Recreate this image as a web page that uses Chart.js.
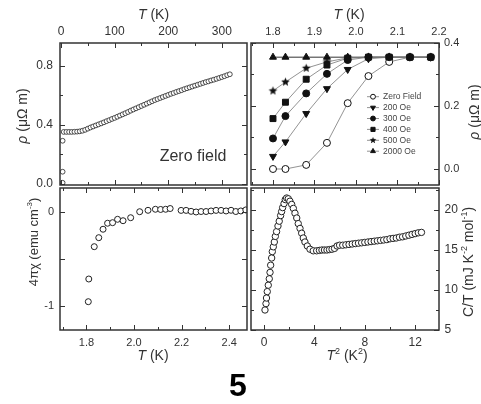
<!DOCTYPE html>
<html>
<head>
<meta charset="utf-8">
<title>Figure 5</title>
<script src="https://cdn.jsdelivr.net/npm/chart.js@4.4.1/dist/chart.umd.min.js"></script>
<style>
  html, body { margin: 0; padding: 0; background: #fff; }
  #fig { position: relative; width: 481px; height: 404px; overflow: hidden; }
  #fig canvas { position: absolute; left: 0; top: 0; }
  #num { position: absolute; left: 218px; top: 369px; width: 40px; text-align: center;
         font: bold 32px/32px "Liberation Sans", Arial, sans-serif; color: #000; }
</style>
</head>
<body>
<div id="fig">
  <canvas id="rho" width="481" height="404"></canvas>
  <canvas id="field" width="481" height="404"></canvas>
  <canvas id="chi" width="481" height="404"></canvas>
  <canvas id="heat" width="481" height="404"></canvas>
  <div id="num">5</div>
</div>
<script>
const FONT = "'Liberation Sans', Arial, sans-serif";
Chart.defaults.font.family = FONT;

// top left: resistivity, zero field, up to room temperature
const rhoTemps = [3, 3, 3, 5, 10, 15, 20, 25, 30, 35, 40, 45, 50, 55, 60, 65, 70, 75, 80, 85, 90, 95,
  100, 105, 110, 115, 120, 125, 130, 135, 140, 145, 150, 155, 160, 165, 170, 175, 180, 185, 190, 195,
  200, 205, 210, 215, 220, 225, 230, 235, 240, 245, 250, 255, 260, 265, 270, 275, 280, 285, 290, 295,
  300, 305, 310, 315];
const rhoZero = [0.005, 0.08, 0.29, 0.350, 0.350, 0.350, 0.350, 0.351, 0.352, 0.354, 0.358, 0.364,
  0.372, 0.380, 0.387, 0.394, 0.401, 0.408, 0.415, 0.423, 0.430, 0.438, 0.445, 0.453, 0.461, 0.469,
  0.477, 0.485, 0.494, 0.502, 0.510, 0.518, 0.526, 0.534, 0.542, 0.550, 0.558, 0.566, 0.573, 0.580,
  0.587, 0.594, 0.601, 0.608, 0.614, 0.621, 0.627, 0.633, 0.640, 0.646, 0.652, 0.658, 0.664, 0.670,
  0.676, 0.682, 0.688, 0.693, 0.699, 0.704, 0.710, 0.716, 0.722, 0.728, 0.735, 0.741];

// top right: transition under field
const fieldTemps = [1.80, 1.83, 1.88, 1.93, 1.98, 2.03, 2.08, 2.13, 2.18];
const rhoZeroField = [0.000, 0.000, 0.013, 0.083, 0.209, 0.295, 0.340, 0.355, 0.355];
const rho200Oe = [0.040, 0.086, 0.176, 0.255, 0.316, 0.350, 0.355, 0.355, 0.355];
const rho300Oe = [0.097, 0.168, 0.240, 0.302, 0.346, 0.355, 0.355, 0.355, 0.355];
const rho400Oe = [0.160, 0.212, 0.285, 0.330, 0.352, 0.355, 0.355, 0.355, 0.355];
const rho500Oe = [0.248, 0.276, 0.320, 0.340, 0.353, 0.355, 0.355, 0.355, 0.355];
const rho2000Oe = [0.355, 0.355, 0.355, 0.355, 0.355, 0.355, 0.355, 0.355, 0.355];
const fieldLabels = ['Zero Field', '200 Oe', '300 Oe', '400 Oe', '500 Oe', '2000 Oe'];

// bottom left: susceptibility
const chiTemps = [1.808, 1.810, 1.833, 1.852, 1.870, 1.889, 1.910, 1.931, 1.954, 1.986, 2.024, 2.059,
  2.090, 2.112, 2.133, 2.152, 2.198, 2.219, 2.240, 2.261, 2.282, 2.303, 2.324, 2.345, 2.366, 2.387,
  2.408, 2.428, 2.449, 2.470];
const chi = [-0.954, -0.712, -0.367, -0.271, -0.181, -0.117, -0.111, -0.075, -0.090, -0.058, 0.006,
  0.021, 0.032, 0.030, 0.032, 0.040, 0.020, 0.020, 0.010, 0.003, 0.008, 0.008, 0.014, 0.020, 0.020,
  0.014, 0.021, 0.008, 0.014, 0.025];

// bottom right: specific heat
const tSquared = [0.08, 0.16, 0.20, 0.26, 0.34, 0.42, 0.48, 0.53, 0.61, 0.66, 0.74, 0.82, 0.90, 1.00,
  1.11, 1.21, 1.32, 1.40, 1.48, 1.59, 1.69, 1.80, 1.93, 2.06, 2.20, 2.33, 2.46, 2.60, 2.72, 2.86,
  2.99, 3.12, 3.25, 3.44, 3.65, 3.91, 4.18, 4.40, 4.60, 4.80, 5.00, 5.20, 5.40, 5.60, 5.80, 6.00,
  6.25, 6.50, 6.75, 7.00, 7.25, 7.50, 7.75, 8.00, 8.25, 8.50, 8.75, 9.00, 9.25, 9.50, 9.75, 10.00,
  10.25, 10.50, 10.75, 11.00, 11.25, 11.50, 11.75, 12.00, 12.25, 12.50];
const cOverT = [7.5, 8.3, 9.0, 9.8, 10.6, 11.4, 12.2, 13.1, 14.0, 14.8, 15.4, 16.0, 16.7, 17.3, 18.0,
  18.6, 19.3, 19.8, 20.3, 20.8, 21.3, 21.5, 21.4, 21.1, 20.7, 20.2, 19.6, 19.0, 18.3, 17.7, 17.1,
  16.5, 16.0, 15.5, 15.1, 14.9, 14.9, 14.95, 15.0, 15.0, 15.0, 15.05, 15.1, 15.2, 15.5, 15.6, 15.6,
  15.65, 15.7, 15.75, 15.8, 15.85, 15.9, 15.95, 16.0, 16.05, 16.1, 16.15, 16.2, 16.25, 16.3, 16.4,
  16.45, 16.5, 16.6, 16.65, 16.75, 16.85, 16.95, 17.05, 17.15, 17.2];

const zip = (xs, ys) => xs.map((x, i) => ({ x, y: ys[i] }));
const fmt1 = (v) => v.toFixed(1);
const fmt0 = (v) => String(Math.round(v));

function starImage(r) {
  const c = document.createElement('canvas');
  const s = Math.ceil(r * 2 + 2);
  c.width = c.height = s;
  const g = c.getContext('2d');
  g.fillStyle = '#111';
  g.beginPath();
  for (let k = 0; k < 10; k++) {
    const rr = k % 2 ? r * 0.45 : r;
    const a = -Math.PI / 2 + (k * Math.PI) / 5;
    g.lineTo(s / 2 + rr * Math.cos(a), s / 2 + rr * Math.sin(a));
  }
  g.closePath();
  g.fill();
  return c;
}

// each axis gets a fixed band (room) so the plot box lands where the panel is
function axis(position, room, min, max, step, pad, size, fmt) {
  return {
    type: 'linear', position, min, max,
    afterFit: (s) => { if (s.isHorizontal()) s.height = room; else s.width = room; },
    grid: { display: false, drawTicks: false },
    border: { display: false },
    ticks: {
      stepSize: step, includeBounds: false, autoSkip: false, maxRotation: 0,
      padding: pad, color: '#333', font: { family: FONT, size }, callback: fmt,
    },
  };
}

function marks(scale, step) {
  const out = [];
  for (let k = Math.ceil(scale.min / step - 1e-9); k * step <= scale.max + 1e-9; k++) out.push(k * step);
  return out;
}

function richText(ctx, t) {
  ctx.save();
  ctx.translate(t.x, t.y);
  if (t.rot) ctx.rotate((t.rot * Math.PI) / 180);
  ctx.textBaseline = 'middle';
  ctx.textAlign = 'left';
  const font = (st) => `${st === 'i' ? 'italic ' : ''}${st === 's' ? Math.round(t.size * 0.65) : t.size}px ${FONT}`;
  let w = 0;
  t.segs.forEach(([s, st]) => { ctx.font = font(st); w += ctx.measureText(s).width; });
  let x = -w / 2;
  t.segs.forEach(([s, st]) => {
    ctx.font = font(st);
    ctx.fillText(s, x, st === 's' ? -t.size * 0.35 : 0);
    x += ctx.measureText(s).width;
  });
  ctx.restore();
}

// box, inward ticks on all four sides, axis titles
const frame = {
  id: 'frame',
  afterDraw(chart, args, o) {
    const { ctx, chartArea: a } = chart;
    ctx.save();
    ctx.strokeStyle = '#333';
    ctx.lineWidth = 1;
    ctx.beginPath();
    for (const s of Object.values(chart.scales)) {
      const horiz = s.isHorizontal();
      const major = s.ticks.map((t) => t.value);
      const minor = marks(s, horiz ? o.minorX : o.minorY)
        .filter((v) => !major.some((m) => Math.abs(m - v) < 1e-6));
      const put = (v, len) => {
        const p = Math.round(s.getPixelForValue(v)) + 0.5;
        if (horiz) {
          ctx.moveTo(p, a.top); ctx.lineTo(p, a.top + len);
          ctx.moveTo(p, a.bottom); ctx.lineTo(p, a.bottom - len);
        } else {
          ctx.moveTo(a.left, p); ctx.lineTo(a.left + len, p);
          ctx.moveTo(a.right, p); ctx.lineTo(a.right - len, p);
        }
      };
      major.forEach((v) => put(v, 5));
      minor.forEach((v) => put(v, 3));
    }
    ctx.stroke();
    ctx.lineWidth = 1.5;
    ctx.strokeRect(a.left, a.top, a.right - a.left, a.bottom - a.top);
    ctx.fillStyle = '#333';
    (o.titles || []).forEach((t) => richText(ctx, t));
    ctx.restore();
  },
};

const fieldLegend = {
  id: 'fieldLegend',
  afterDatasetsDraw(chart, args, o) {
    const ctx = chart.ctx;
    ctx.save();
    chart.data.datasets.forEach((ds, i) => {
      const y = o.y + i * o.dy;
      ctx.strokeStyle = '#777';
      ctx.lineWidth = 0.8;
      ctx.beginPath(); ctx.moveTo(o.x - 6, y); ctx.lineTo(o.x + 6, y); ctx.stroke();
      if (ds.pointStyle instanceof HTMLCanvasElement) {
        const w = ds.pointStyle.width * 0.75;
        ctx.drawImage(ds.pointStyle, o.x - w / 2, y - w / 2, w, w);
      } else {
        ctx.fillStyle = ds.pointBackgroundColor;
        ctx.strokeStyle = ds.pointBorderColor;
        ctx.lineWidth = 1;
        Chart.helpers.drawPoint(ctx, {
          pointStyle: ds.pointStyle, radius: ds.pointRadius * 0.7,
          rotation: ds.pointRotation || 0, borderWidth: 1,
        }, o.x, y);
      }
      ctx.fillStyle = '#444';
      ctx.font = `8.5px ${FONT}`;
      ctx.textBaseline = 'middle';
      ctx.textAlign = 'left';
      ctx.fillText(ds.label, o.x + 10, y);
    });
    ctx.restore();
  },
};

function makePanel(id, padding, x, y, datasets, frameOpts, extra) {
  return new Chart(document.getElementById(id), {
    type: 'scatter',
    data: { datasets },
    options: {
      responsive: false, animation: false, devicePixelRatio: 1, events: [],
      layout: { padding },
      scales: { x, y },
      plugins: {
        legend: { display: false }, tooltip: { enabled: false },
        frame: frameOpts, fieldLegend: extra || {},
      },
    },
    plugins: extra ? [frame, fieldLegend] : [frame],
  });
}

const openCircle = (r) => ({
  pointStyle: 'circle', pointRadius: r, pointBackgroundColor: '#fff',
  pointBorderColor: '#222', pointBorderWidth: 1, showLine: false,
});

const tK = [['T', 'i'], [' (K)']];
const rhoUnit = [['ρ', 'i'], [' (μΩ m)']];

// plot boxes: left 60-247 / right 251-439, top 43-185 / bottom 188-330
makePanel('rho', { left: 0, top: 0, right: 234, bottom: 219 },
  axis('top', 43, -1.9, 347, 100, 4, 12, fmt0),
  axis('left', 60, -0.01, 0.953, 0.4, 7, 12, fmt1),
  [{ label: 'Zero field', data: zip(rhoTemps, rhoZero), ...openCircle(2.4), pointBorderWidth: 0.8 }],
  {
    minorX: 50, minorY: 0.2,
    titles: [
      { segs: tK, x: 153.5, y: 15, size: 14 },
      { segs: rhoUnit, x: 23, y: 116, size: 14, rot: -90 },
      { segs: [['Zero field']], x: 193, y: 157, size: 16 },
    ],
  });

const star = starImage(4.5);
const fieldLine = { showLine: true, borderColor: '#777', borderWidth: 0.8, pointBorderColor: '#111', pointBorderWidth: 1 };
makePanel('field', { left: 251, top: 0, right: 0, bottom: 219 },
  axis('top', 43, 1.747, 2.2, 0.1, 4, 11, fmt1),
  axis('right', 42, -0.0508, 0.4, 0.2, 5, 11, fmt1),
  [
    { label: fieldLabels[0], data: zip(fieldTemps, rhoZeroField), ...fieldLine, pointStyle: 'circle', pointRadius: 3.5, pointBackgroundColor: '#fff', order: 1 },
    { label: fieldLabels[1], data: zip(fieldTemps, rho200Oe), ...fieldLine, pointStyle: 'triangle', pointRotation: 180, pointRadius: 4, pointBackgroundColor: '#111', order: 2 },
    { label: fieldLabels[2], data: zip(fieldTemps, rho300Oe), ...fieldLine, pointStyle: 'circle', pointRadius: 3.5, pointBackgroundColor: '#111', order: 0 },
    { label: fieldLabels[3], data: zip(fieldTemps, rho400Oe), ...fieldLine, pointStyle: 'rect', pointRadius: 4.2, pointBackgroundColor: '#111', order: 3 },
    { label: fieldLabels[4], data: zip(fieldTemps, rho500Oe), ...fieldLine, pointStyle: star, pointRadius: 4.5, pointBackgroundColor: '#111', order: 4 },
    { label: fieldLabels[5], data: zip(fieldTemps, rho2000Oe), ...fieldLine, borderColor: '#333', borderWidth: 1, pointStyle: 'triangle', pointRadius: 4, pointBackgroundColor: '#111', order: 5 },
  ],
  {
    minorX: 0.05, minorY: 0.1,
    titles: [
      { segs: tK, x: 349, y: 15, size: 14 },
      { segs: rhoUnit, x: 475, y: 112, size: 14, rot: -90 },
    ],
  },
  { x: 373, y: 96.7, dy: 10.9 });

makePanel('chi', { left: 0, top: 188, right: 234, bottom: 0 },
  axis('bottom', 74, 1.689, 2.475, 0.2, 6.5, 11, fmt1),
  axis('left', 60, -1.256, 0.259, 0.5, 6, 11, (v) => (Number.isInteger(v) ? String(v) : '')),
  [{ label: '4πχ', data: zip(chiTemps, chi), ...openCircle(3) }],
  {
    minorX: 0.1, minorY: 0.5,
    titles: [
      { segs: tK, x: 153, y: 356, size: 14 },
      { segs: [['4πχ (emu cm'], ['-3', 's'], [')']], x: 34, y: 242, size: 13, rot: -90 },
    ],
  });

makePanel('heat', { left: 251, top: 188, right: 0, bottom: 0 },
  axis('bottom', 74, -1.03, 13.89, 4, 5, 12, fmt0),
  axis('right', 42, 5, 22.75, 5, 5.5, 12, fmt0),
  [{ label: 'C/T', data: zip(tSquared, cOverT), ...openCircle(3.2) }],
  {
    minorX: 2, minorY: 2.5,
    titles: [
      { segs: [['T', 'i'], ['2', 's'], [' (K'], ['2', 's'], [')']], x: 347, y: 356, size: 14 },
      { segs: [['C/T (mJ K'], ['-2', 's'], [' mol'], ['-1', 's'], [')']], x: 469, y: 262, size: 14, rot: -90 },
    ],
  });
</script>
</body>
</html>
